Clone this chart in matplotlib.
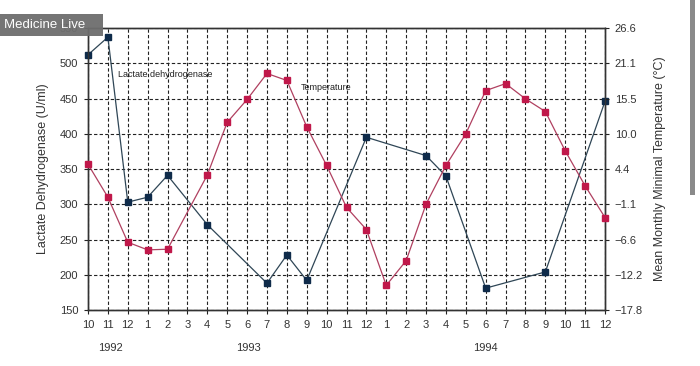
import matplotlib
matplotlib.use("Agg")
import matplotlib.pyplot as plt
import matplotlib.transforms as mtransforms
from matplotlib.patches import Rectangle

plt.rcParams['font.family'] = ['Liberation Sans', 'DejaVu Sans']

month_labels = ["10", "11", "12", "1", "2", "3", "4", "5", "6", "7", "8", "9",
                "10", "11", "12", "1", "2", "3", "4", "5", "6", "7", "8", "9",
                "10", "11", "12"]
year_labels = ["1992", "1993", "1994"]
year_pos = [1.15, 8.05, 20.0]

ldh_idx = [0, 1, 2, 3, 4, 6, 9, 10, 11, 14, 17, 18, 20, 23, 26]
ldh_vals = [512, 537, 303, 310, 341, 271, 188, 228, 192, 395, 369, 340, 181, 204, 446]

temp_idx = [0, 1, 2, 3, 4, 6, 7, 8, 9, 10, 11, 12, 13, 14, 15, 16, 17, 18, 19,
            20, 21, 22, 23, 24, 25, 26]
temp_vals = [5.2, 0.0, -7.1, -8.3, -8.2, 3.5, 11.8, 15.4, 19.5, 18.4, 11.1, 5.0,
             -1.6, -5.1, -13.9, -10.0, -1.1, 5.0, 10.0, 16.8, 17.9, 15.5, 13.5,
             7.3, 1.8, -3.2]

left_ticks = [150, 200, 250, 300, 350, 400, 450, 500, 550]
right_tick_f = [0, 10, 20, 30, 40, 50, 60, 70, 80]
right_labels = ["\u221217.8", "\u221212.2", "\u22126.6", "\u22121.1", "4.4",
                "10.0", "15.5", "21.1", "26.6"]

fig = plt.figure(figsize=(7.0, 3.66), dpi=100)
ax = fig.add_axes([88/700, 1-310/366, (605-88)/700, (310-28)/366])
ax2 = ax.twinx()

ax.set_xlim(0, 26)
ax.set_ylim(150, 550)
ax.set_xticks(range(len(month_labels)))
ax.set_xticklabels(month_labels, fontsize=8)
ax.set_yticks(left_ticks)
ax.set_yticklabels([str(t) for t in left_ticks], fontsize=8)
ax.grid(True, color='#222222', linestyle=(0, (3, 2)), linewidth=0.8)
ax.set_axisbelow(True)
ax.tick_params(axis='both', length=3, width=0.8, colors='#222222', labelcolor='#333333', pad=4)

tmin = (0 - 32) * 5 / 9
tmax = (80 - 32) * 5 / 9
ax2.set_ylim(tmin, tmax)
ax2.set_yticks([(f - 32) * 5 / 9 for f in right_tick_f])
ax2.set_yticklabels(right_labels, fontsize=8)
ax2.tick_params(axis='y', length=3, width=0.8, colors='#222222', labelcolor='#333333', pad=4)

for a in (ax, ax2):
    for s in a.spines.values():
        s.set_color('#333333')
        s.set_linewidth(1.0)

ax.plot(ldh_idx, ldh_vals, color='#2f4656', linewidth=0.9, marker='s',
        markersize=5, markerfacecolor='#0f2b4a', markeredgecolor='#0f2b4a',
        clip_on=False, zorder=5)
ax2.plot(temp_idx, temp_vals, color='#b04060', linewidth=0.9, marker='s',
         markersize=5, markerfacecolor='#c0184a', markeredgecolor='#c0184a',
         clip_on=False, zorder=5)

ax.set_ylabel("Lactate Dehydrogenase (U/ml)", fontsize=9, color='#333333', labelpad=8)
ax2.set_ylabel("Mean Monthly Minimal Temperature (\u00b0C)", fontsize=9, color='#333333', labelpad=8)

ax.text(1.5, 484, "Lactate dehydrogenase", fontsize=6.5, color='#222222', va='center', ha='left')
ax.text(10.7, 465, "Temperature", fontsize=6.5, color='#222222', va='center', ha='left')

trans = mtransforms.blended_transform_factory(ax.transData, fig.transFigure)
for lbl, p in zip(year_labels, year_pos):
    ax.text(p, 1 - 348/366, lbl, transform=trans, fontsize=8, color='#333333',
            ha='center', va='center')

# watermark
fig.patches.append(Rectangle((0, 1 - 36/366), 103/700, 22/366, transform=fig.transFigure,
                             facecolor='#6e6e6e', edgecolor='none', alpha=0.95, zorder=10))
fig.text(4/700, 1 - 25/366, "Medicine Live", color='white', fontsize=9.5,
         va='center', ha='left', zorder=11)
# scrollbar
fig.patches.append(Rectangle((690/700, 1 - 195/366), 5/700, 195/366, transform=fig.transFigure,
                             facecolor='#8a8a8a', edgecolor='none', zorder=10))

fig.savefig("out.png", dpi=100)
